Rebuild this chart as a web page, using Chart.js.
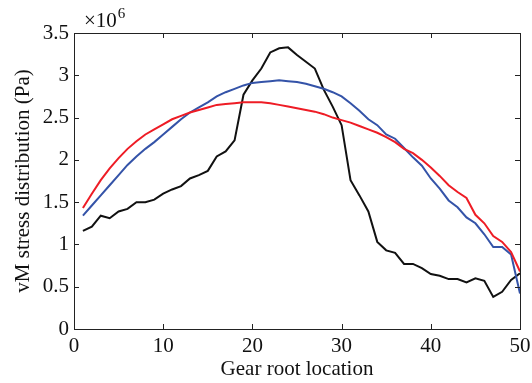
<!DOCTYPE html>
<html>
<head>
<meta charset="utf-8">
<script src="https://cdn.jsdelivr.net/npm/chart.js@4"></script>
<style>
  html, body { margin: 0; padding: 0; background: #fff; }
  #wrap { width: 532px; height: 383px; position: relative; }
</style>
</head>
<body>
<div id="wrap"><canvas id="chart"></canvas></div>
<script>
const locations = Array.from({ length: 50 }, (_, i) => i + 1);

// values in units of 1e6 Pa
const blackVals = [1.16, 1.21, 1.34, 1.31, 1.39, 1.42, 1.50, 1.50, 1.53, 1.60,
  1.65, 1.69, 1.78, 1.82, 1.87, 2.04, 2.10, 2.23, 2.77, 2.94,
  3.08, 3.27, 3.32, 3.33, 3.24, 3.16, 3.08, 2.83, 2.63, 2.41,
  1.76, 1.58, 1.39, 1.03, 0.93, 0.90, 0.77, 0.77, 0.72, 0.65,
  0.63, 0.59, 0.59, 0.55, 0.60, 0.57, 0.38, 0.44, 0.58, 0.66];
const blueVals = [1.34, 1.46, 1.58, 1.70, 1.82, 1.94, 2.04, 2.13, 2.21, 2.30,
  2.39, 2.48, 2.56, 2.62, 2.68, 2.75, 2.80, 2.84, 2.88, 2.91,
  2.92, 2.93, 2.94, 2.93, 2.92, 2.90, 2.87, 2.84, 2.80, 2.75,
  2.67, 2.58, 2.48, 2.41, 2.30, 2.25, 2.14, 2.03, 1.93, 1.78,
  1.66, 1.52, 1.44, 1.32, 1.25, 1.12, 0.97, 0.97, 0.88, 0.42];
const redVals = [1.43, 1.60, 1.76, 1.90, 2.02, 2.13, 2.22, 2.30, 2.36, 2.42,
  2.48, 2.52, 2.56, 2.59, 2.62, 2.65, 2.66, 2.67, 2.68, 2.68,
  2.68, 2.67, 2.65, 2.63, 2.61, 2.59, 2.57, 2.54, 2.50, 2.47,
  2.44, 2.40, 2.36, 2.32, 2.27, 2.21, 2.13, 2.08, 2.00, 1.91,
  1.81, 1.70, 1.62, 1.55, 1.35, 1.25, 1.10, 1.03, 0.91, 0.68];

const xTicks = [0, 10, 20, 30, 40, 50];
const yTicks = [0, 0.5, 1, 1.5, 2, 2.5, 3, 3.5];

const FONT = "'Liberation Serif', 'DejaVu Serif', serif";
const toPts = vals => vals.map((v, i) => ({ x: locations[i], y: v * 1e6 }));

// matlab-style box with inward ticks on all four sides
const boxPlugin = {
  id: 'box',
  afterDraw(chart) {
    const { ctx, chartArea: a, scales } = chart;
    ctx.save();
    ctx.strokeStyle = '#222';
    ctx.lineWidth = 1;
    ctx.strokeRect(a.left + 0.5, a.top + 0.5, a.right - a.left, a.bottom - a.top);
    const len = 5;
    ctx.beginPath();
    xTicks.forEach(t => {
      const px = Math.round(scales.x.getPixelForValue(t)) + 0.5;
      ctx.moveTo(px, a.bottom); ctx.lineTo(px, a.bottom - len);
      ctx.moveTo(px, a.top); ctx.lineTo(px, a.top + len);
    });
    yTicks.forEach(t => {
      const py = Math.round(scales.y.getPixelForValue(t * 1e6)) + 0.5;
      ctx.moveTo(a.left, py); ctx.lineTo(a.left + len, py);
      ctx.moveTo(a.right, py); ctx.lineTo(a.right - len, py);
    });
    ctx.stroke();
    // exponent label
    ctx.fillStyle = '#111';
    ctx.textBaseline = 'alphabetic';
    ctx.font = '21px ' + FONT;
    ctx.fillText('\u00d710', a.left + 10, a.top - 6);
    const w = ctx.measureText('\u00d710').width;
    ctx.font = '15px ' + FONT;
    ctx.fillText('6', a.left + 11 + w, a.top - 15);
    ctx.restore();
  }
};

const ctx = document.getElementById('chart').getContext('2d');
new Chart(ctx, {
  type: 'line',
  data: {
    datasets: [
      { data: toPts(redVals), borderColor: '#ee1c25', borderWidth: 2 },
      { data: toPts(blueVals), borderColor: '#3453a8', borderWidth: 2 },
      { data: toPts(blackVals), borderColor: '#111111', borderWidth: 2 }
    ]
  },
  options: {
    responsive: true,
    maintainAspectRatio: false,
    animation: false,
    layout: { padding: { top: 33, right: 12, left: 0, bottom: 0 } },
    elements: { point: { radius: 0 }, line: { tension: 0 } },
    plugins: { legend: { display: false }, tooltip: { enabled: false } },
    scales: {
      x: {
        type: 'linear', min: 0, max: 50,
        afterBuildTicks: s => { s.ticks = xTicks.map(v => ({ value: v })); },
        afterFit: s => { s.height = 54; s.paddingRight = 0; },
        grid: { display: false, drawTicks: false },
        border: { display: false },
        ticks: { color: '#111', font: { family: FONT, size: 21 }, padding: 5, maxRotation: 0 },
        title: { display: true, text: 'Gear root location', color: '#111', font: { family: FONT, size: 21 }, padding: { top: 0, bottom: 1 } }
      },
      y: {
        type: 'linear', min: 0, max: 3.5e6,
        afterBuildTicks: s => { s.ticks = yTicks.map(v => ({ value: v * 1e6 })); },
        afterFit: s => { s.width = 74; },
        grid: { display: false, drawTicks: false },
        border: { display: false },
        ticks: { color: '#111', font: { family: FONT, size: 21 }, padding: 5, callback: v => String(v / 1e6) },
        title: { display: true, text: 'vM stress distribution (Pa)', color: '#111', font: { family: FONT, size: 21 }, padding: { top: 11, bottom: 0 } }
      }
    }
  },
  plugins: [boxPlugin]
});
</script>
</body>
</html>
